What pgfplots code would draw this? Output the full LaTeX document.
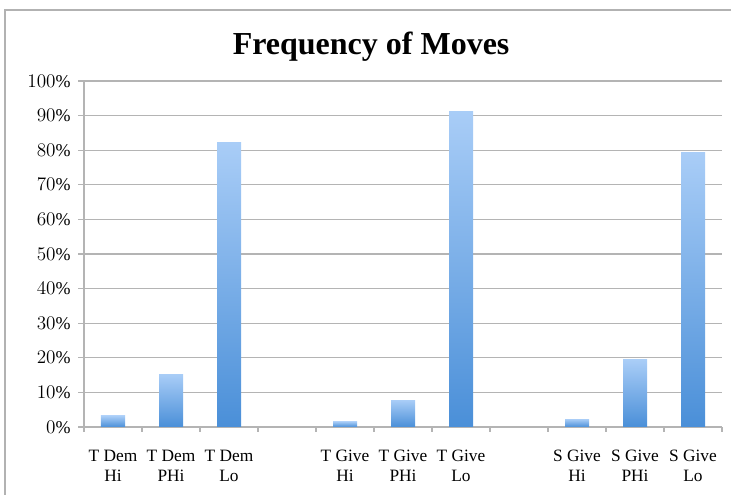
\documentclass[border=0pt]{standalone}
\usepackage{pgfplots}
\pgfplotsset{compat=1.18}
\usepackage{fontspec}
\setmainfont{Liberation Serif}
\usetikzlibrary{calc}
\definecolor{barlight}{HTML}{A9CDF7}
\definecolor{bardark}{HTML}{4A8FD8}
\definecolor{gridgray}{HTML}{B4B4B4}
% one addplot per bar so every bar gets its own gradient
\pgfplotsset{gbar/.style={ybar, bar width=18pt, bar shift=0pt, draw=none,
  top color=barlight, bottom color=bardark}}

\begin{document}
\begin{tikzpicture}
\begin{axis}[
  name=ax,
  scale only axis,
  width=478.5pt, height=259.5pt,
  xmin=-0.5, xmax=10.5,
  ymin=0, ymax=100,
  ytick={0,10,...,100},
  yticklabel={\pgfmathprintnumber{\tick}\%},
  yticklabel style={font=\fontsize{13.5}{15}\selectfont, xshift=-2pt},
  ymajorgrids,
  grid style={gridgray, line width=0.8pt},
  axis x line*=bottom, axis y line*=left,
  axis line style={gridgray, line width=0.8pt},
  xtick={0,...,10},
  xticklabels={{T Dem\\Hi},{T Dem\\PHi},{T Dem\\Lo},{},{T Give\\Hi},{T Give\\PHi},{T Give\\Lo},{},{S Give\\Hi},{S Give\\PHi},{S Give\\Lo}},
  xticklabel style={align=center, yshift=-9pt, font=\fontsize{13}{15}\selectfont},
  major x tick style={draw=none},
  minor xtick={-0.5,0.5,...,10.5},
  tick align=outside,
  tick style={gridgray, line width=0.8pt},
  major tick length=4.5pt, minor tick length=3.5pt,
  title={Frequency of Moves},
  title style={font=\fontsize{24}{28}\selectfont\bfseries, at={(0.45,1)}, yshift=5pt},
]
\addplot[gbar] coordinates {(0,3.2)};
\addplot[gbar] coordinates {(1,15.3)};
\addplot[gbar] coordinates {(2,82.1)};
\addplot[gbar] coordinates {(4,1.6)};
\addplot[gbar] coordinates {(5,7.8)};
\addplot[gbar] coordinates {(6,91.3)};
\addplot[gbar] coordinates {(8,2.3)};
\addplot[gbar] coordinates {(9,19.4)};
\addplot[gbar] coordinates {(10,79.2)};
\end{axis}
\draw[gray!60, line width=0.8pt] ($(ax.south west)+(-59.25pt,-51pt)$) |- ($(ax.north east)+(6.75pt,53.25pt)$);
\pgfresetboundingbox
\path ($(ax.south west)+(-63pt,-51pt)$) rectangle ($(ax.north east)+(6.75pt,60.75pt)$);
\end{tikzpicture}
\end{document}
